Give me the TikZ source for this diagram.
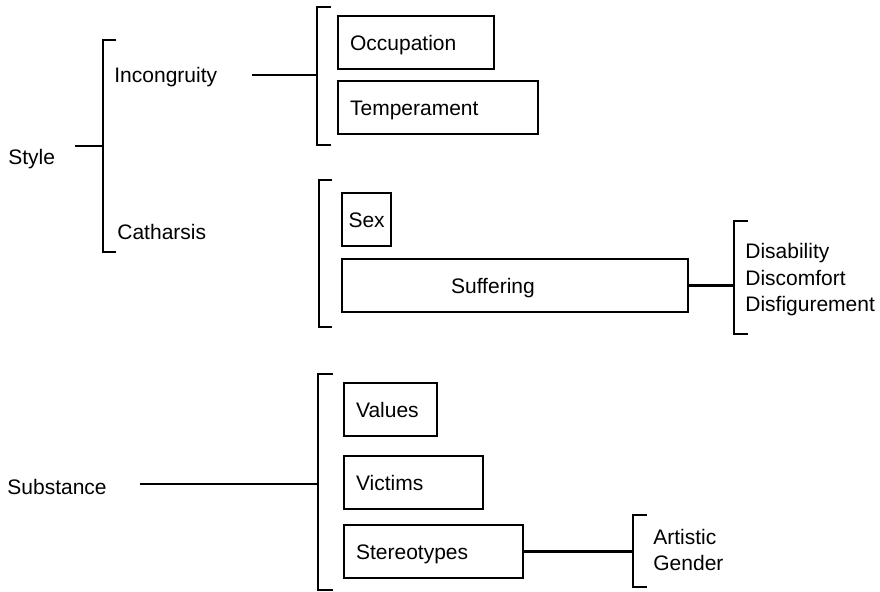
\documentclass[tikz,border=0pt]{standalone}
\usepackage{fontspec}
\setmainfont{Liberation Sans}
\usetikzlibrary{positioning}

\begin{document}
\begin{tikzpicture}[
    x=0.5pt, y=-0.5pt,
    every node/.style={font=\fontsize{10.5}{13.25}\selectfont, inner sep=0pt},
    term/.style={anchor=base west},
    box/.style={draw, line width=1.1pt, anchor=north west, inner xsep=6pt, align=left, minimum height=26.5pt, text height=7.6pt, text depth=0pt},
    line/.style={draw, line width=1.1pt},
    bracketline/.style={draw, line width=1.1pt}
]
    \useasboundingbox (0,0) rectangle (880,592);

    % left hand terms
    \node [term] (style) at (8,165) {Style};
    \node [term] (incon) at (114,83) {Incongruity};
    \node [term] (cath) at (117,240) {Catharsis};
    \node [term] (subst) at (7,495) {Substance};

    % boxed terms
    \node [box, text width=66pt] (occ) at (337,15) {Occupation};
    \node [box, text width=88pt] (temp) at (337,80) {Temperament};
    \node [box, minimum width=24.5pt, inner xsep=0pt] (sex) at (341,192) {Sex};
    \node [box, text width=161pt] (suff) at (341,258) {\hspace*{48.5pt}Suffering};
    \node [box, text width=34.5pt] (val) at (343,382) {Values};
    \node [box, text width=57.5pt] (vic) at (343,455) {Victims};
    \node [box, text width=77.5pt] (ster) at (343,524) {Stereotypes};

    % right hand lists
    \node [anchor=west, align=left] (harm) at (745,280) {Disability\\Discomfort\\Disfigurement};
    \node [anchor=west, align=left] (kind) at (653,550) {Artistic\\Gender};

    % brackets
    \path [bracketline] (116,40) -- (103,40) -- (103,252) -- (116,252);
    \path [bracketline] (331,7) -- (317,7) -- (317,145) -- (331,145);
    \path [bracketline] (332,180) -- (319,180) -- (319,327) -- (332,327);
    \path [bracketline] (748,221) -- (734,221) -- (734,334) -- (748,334);
    \path [bracketline] (333,374) -- (318,374) -- (318,590) -- (333,590);
    \path [bracketline] (647,515) -- (633,515) -- (633,587) -- (647,587);

    \coordinate (b1) at (103,146);
    \coordinate (b2) at (317,75);
    \coordinate (b4) at (734,285);
    \coordinate (b5) at (318,484);
    \coordinate (b6) at (633,551);

    % connectors
    \coordinate (style-tail) at (75,146);
    \coordinate (incon-tail) at (252,75);
    \coordinate (subst-tail) at (140,484);
    \path [line] (style-tail) -- (b1);
    \path [line] (incon-tail) -- (b2);
    \path [line] (suff.east) -- (suff.east -| b4);
    \path [line] (subst-tail) -- (b5);
    \path [line] (ster.east) -- (ster.east -| b6);
\end{tikzpicture}
\end{document}
